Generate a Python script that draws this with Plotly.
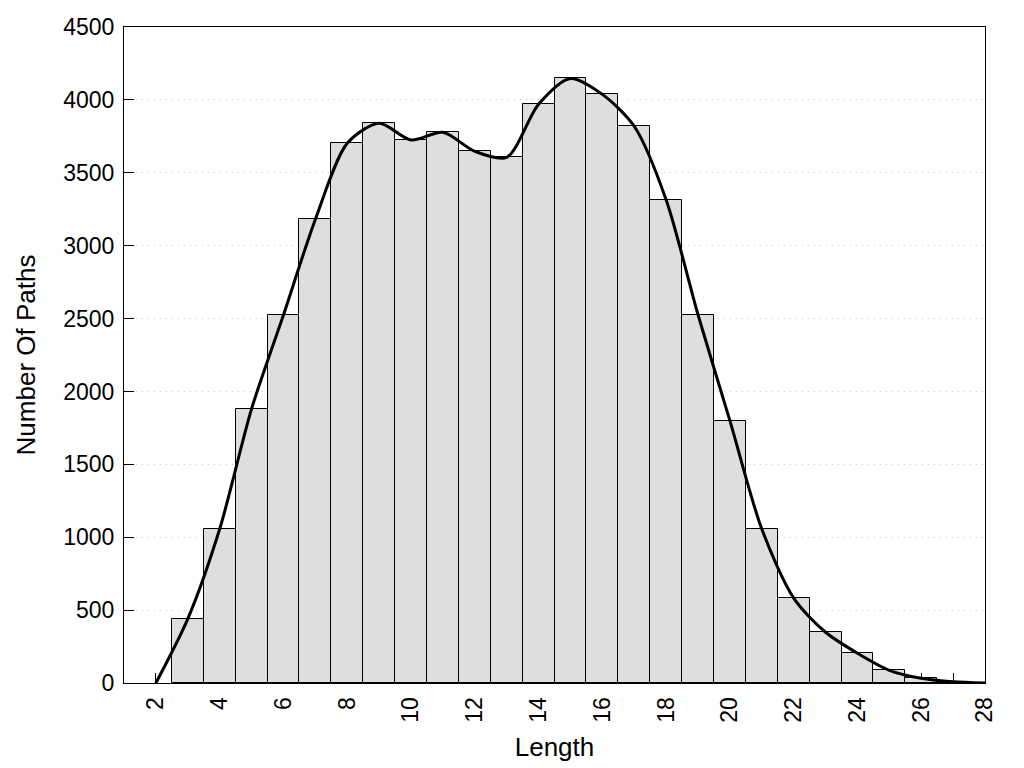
import plotly.graph_objects as go

# Histogram of path lengths
lengths = list(range(3, 28))
counts = [440, 1056, 1880, 2524, 3180, 3702, 3840, 3725, 3778, 3647, 3606,
          3970, 4147, 4038, 3819, 3315, 2526, 1800, 1056, 582, 348, 204, 87, 32, 8]

# Smoothed curve nodes (drawn with Plotly spline)
curve_x = [2] + lengths + [28]
curve_y = [0] + counts + [0]

x_tickvals = list(range(2, 29))
x_ticktext = [str(v) if v % 2 == 0 else "" for v in x_tickvals]

FONT = "Liberation Sans, Arial, sans-serif"

fig = go.Figure()
fig.add_trace(go.Bar(
    x=lengths, y=counts, width=1,
    marker=dict(color="#dedede", line=dict(color="black", width=1)),
    showlegend=False,
))
fig.add_trace(go.Scatter(
    x=curve_x, y=curve_y, mode="lines",
    line=dict(color="black", width=3, shape="spline", smoothing=0.8),
    showlegend=False,
))

fig.update_layout(
    width=1024, height=768,
    margin=dict(l=116, r=47, t=19, b=93),
    plot_bgcolor="white", paper_bgcolor="white",
    font=dict(family=FONT, size=22, color="black"),
    bargap=0,
)
fig.update_xaxes(
    range=[1, 28], tickvals=x_tickvals, ticktext=x_ticktext, tickangle=-90,
    ticks="inside", ticklen=10, tickcolor="black",
    showline=True, mirror=True, linecolor="black", linewidth=1,
    showgrid=False, zeroline=False, layer="below traces",
    title=dict(text="Length", standoff=16), automargin=False,
    tickfont=dict(size=23), ticklabelstandoff=4,
)
fig.update_yaxes(
    range=[0, 4500], dtick=500,
    ticks="inside", ticklen=10, tickcolor="black",
    showline=True, mirror=True, linecolor="black", linewidth=1,
    showgrid=True, gridcolor="#c8c8c8", griddash="1px,5px", gridwidth=1,
    zeroline=False, automargin=False,
    title=dict(text="Number Of Paths", standoff=20),
    tickfont=dict(size=23), ticklabelstandoff=4,
)

fig.write_html("out.html")
